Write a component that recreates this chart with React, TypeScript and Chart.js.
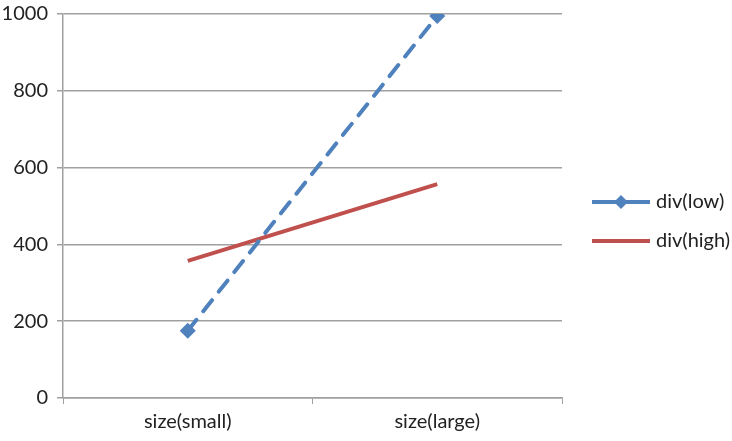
import React, { useEffect, useRef } from "react";
import { Chart, registerables } from "chart.js";

Chart.register(...registerables);

const categories = ["size(small)", "size(large)"];
const divLow = [175, 995];
const divHigh = [357, 557];
const seriesNames = ["div(low)", "div(high)"];

const BLUE = "#4f81bd";
const RED = "#c0504d";
const GRID = "#a0a0a0";
const TEXT = "#222222";
const FONT = "Lato, 'Open Sans', sans-serif";
const FS = 20;

const legendPlugin = {
  id: "customLegend",
  afterDraw(chart: any) {
    const ctx = chart.ctx;
    const items = [
      { name: seriesNames[0], color: BLUE, marker: true, y: 202 },
      { name: seriesNames[1], color: RED, marker: false, y: 241 },
    ];
    ctx.save();
    for (const it of items) {
      ctx.strokeStyle = it.color;
      ctx.lineWidth = 4;
      ctx.lineCap = "butt";
      ctx.beginPath();
      ctx.moveTo(592, it.y);
      ctx.lineTo(650, it.y);
      ctx.stroke();
      if (it.marker) {
        ctx.fillStyle = it.color;
        ctx.beginPath();
        const cx = 621, cy = it.y, r = 7;
        ctx.moveTo(cx, cy - r);
        ctx.lineTo(cx + r, cy);
        ctx.lineTo(cx, cy + r);
        ctx.lineTo(cx - r, cy);
        ctx.closePath();
        ctx.fill();
      }
      ctx.fillStyle = TEXT;
      ctx.font = `${FS}px ${FONT}`;
      ctx.textBaseline = "middle";
      ctx.textAlign = "left";
      ctx.fillText(it.name, 656, it.y);
    }
    ctx.restore();
  },
};

export default function App() {
  const ref = useRef<HTMLCanvasElement>(null);
  useEffect(() => {
    document.body.style.margin = "0";
    const chart = new Chart(ref.current!, {
      type: "line",
      data: {
        labels: categories,
        datasets: [
          {
            label: seriesNames[0],
            data: divLow,
            borderColor: BLUE,
            backgroundColor: BLUE,
            borderWidth: 4,
            borderDash: [14, 11],
            borderCapStyle: "round",
            pointStyle: "rectRot",
            pointRadius: 8,
            pointBorderWidth: 0,
            pointBackgroundColor: BLUE,
            tension: 0,
          },
          {
            label: seriesNames[1],
            data: divHigh,
            borderColor: RED,
            backgroundColor: RED,
            borderWidth: 4,
            pointRadius: 0,
            tension: 0,
          },
        ],
      },
      options: {
        animation: false,
        responsive: false,
        devicePixelRatio: 1,
        layout: { padding: { top: 14, right: 170, left: 0, bottom: 0 } },
        plugins: { legend: { display: false }, tooltip: { enabled: false } },
        scales: {
          x: {
            offset: true,
            grid: {
              offset: true,
              drawOnChartArea: false,
              drawTicks: true,
              tickLength: 6,
              color: GRID,
            },
            border: { color: GRID, width: 1.5 },
            ticks: { color: TEXT, font: { size: FS, family: FONT }, padding: 6 },
            afterFit: (s: any) => {
              s.height = 43;
            },
          },
          y: {
            min: 0,
            max: 1000,
            ticks: {
              stepSize: 200,
              color: TEXT,
              font: { size: FS, family: FONT },
              padding: 9,
              callback: (v: any) => String(v),
            },
            grid: { color: GRID, lineWidth: 1.5, tickLength: 6 },
            border: { color: GRID, width: 1.5 },
            afterFit: (s: any) => {
              s.width = 63;
              s.paddingTop = 0;
              s.paddingBottom = 0;
            },
          },
        },
      },
      plugins: [legendPlugin],
    });
    return () => chart.destroy();
  }, []);
  return (
    <div style={{ width: 732, height: 441, background: "#fff" }}>
      <canvas ref={ref} width={732} height={441} />
    </div>
  );
}
